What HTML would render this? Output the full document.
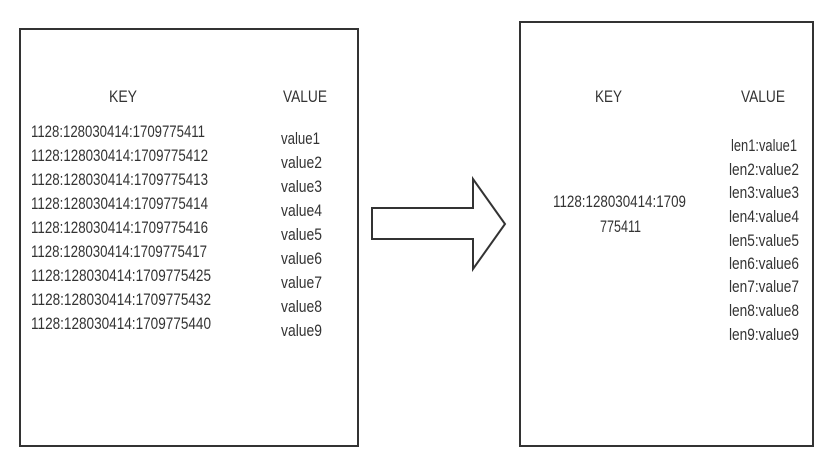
<!DOCTYPE html>
<html><head><meta charset="utf-8"><style>body{margin:0;background:#fff}svg{display:block}</style></head><body>
<svg width="828" height="472" viewBox="0 0 828 472" xmlns="http://www.w3.org/2000/svg" font-family="Liberation Sans, sans-serif" font-size="17" fill="#333">
<rect x="20" y="29" width="338" height="417" fill="none" stroke="#333" stroke-width="2"/>
<rect x="520" y="22" width="293" height="424" fill="none" stroke="#333" stroke-width="2"/>
<polygon points="372,208 473,208 473,179 505,224 473,269 473,239 372,239" fill="none" stroke="#333" stroke-width="2" stroke-linejoin="miter"/>
<g>
<text x="109" y="102" textLength="28" lengthAdjust="spacingAndGlyphs">KEY</text>
<text x="283" y="102" textLength="44" lengthAdjust="spacingAndGlyphs">VALUE</text>
<text x="31" y="137" textLength="174" lengthAdjust="spacingAndGlyphs">1128:128030414:1709775411</text>
<text x="31" y="161" textLength="177" lengthAdjust="spacingAndGlyphs">1128:128030414:1709775412</text>
<text x="31" y="185" textLength="177" lengthAdjust="spacingAndGlyphs">1128:128030414:1709775413</text>
<text x="31" y="209" textLength="177" lengthAdjust="spacingAndGlyphs">1128:128030414:1709775414</text>
<text x="31" y="233" textLength="177" lengthAdjust="spacingAndGlyphs">1128:128030414:1709775416</text>
<text x="31" y="257" textLength="176" lengthAdjust="spacingAndGlyphs">1128:128030414:1709775417</text>
<text x="31" y="281" textLength="180" lengthAdjust="spacingAndGlyphs">1128:128030414:1709775425</text>
<text x="31" y="305" textLength="180" lengthAdjust="spacingAndGlyphs">1128:128030414:1709775432</text>
<text x="31" y="329" textLength="180" lengthAdjust="spacingAndGlyphs">1128:128030414:1709775440</text>
<text x="281" y="144" textLength="39" lengthAdjust="spacingAndGlyphs">value1</text>
<text x="281" y="168" textLength="41" lengthAdjust="spacingAndGlyphs">value2</text>
<text x="281" y="192" textLength="41" lengthAdjust="spacingAndGlyphs">value3</text>
<text x="281" y="216" textLength="41" lengthAdjust="spacingAndGlyphs">value4</text>
<text x="281" y="240" textLength="41" lengthAdjust="spacingAndGlyphs">value5</text>
<text x="281" y="264" textLength="41" lengthAdjust="spacingAndGlyphs">value6</text>
<text x="281" y="288" textLength="41" lengthAdjust="spacingAndGlyphs">value7</text>
<text x="281" y="312" textLength="41" lengthAdjust="spacingAndGlyphs">value8</text>
<text x="281" y="336" textLength="41" lengthAdjust="spacingAndGlyphs">value9</text>
</g>
<g>
<text x="595" y="102" textLength="27" lengthAdjust="spacingAndGlyphs">KEY</text>
<text x="741" y="102" textLength="44" lengthAdjust="spacingAndGlyphs">VALUE</text>
<text x="553" y="207" textLength="133" lengthAdjust="spacingAndGlyphs">1128:128030414:1709</text>
<text x="600" y="232" textLength="41" lengthAdjust="spacingAndGlyphs">775411</text>
<text x="731" y="151" textLength="66" lengthAdjust="spacingAndGlyphs">len1:value1</text>
<text x="729" y="175" textLength="70" lengthAdjust="spacingAndGlyphs">len2:value2</text>
<text x="729" y="198" textLength="70" lengthAdjust="spacingAndGlyphs">len3:value3</text>
<text x="729" y="222" textLength="70" lengthAdjust="spacingAndGlyphs">len4:value4</text>
<text x="729" y="246" textLength="70" lengthAdjust="spacingAndGlyphs">len5:value5</text>
<text x="729" y="269" textLength="70" lengthAdjust="spacingAndGlyphs">len6:value6</text>
<text x="729" y="292" textLength="70" lengthAdjust="spacingAndGlyphs">len7:value7</text>
<text x="729" y="316" textLength="70" lengthAdjust="spacingAndGlyphs">len8:value8</text>
<text x="729" y="340" textLength="70" lengthAdjust="spacingAndGlyphs">len9:value9</text>
</g>
</svg>
</body></html>
